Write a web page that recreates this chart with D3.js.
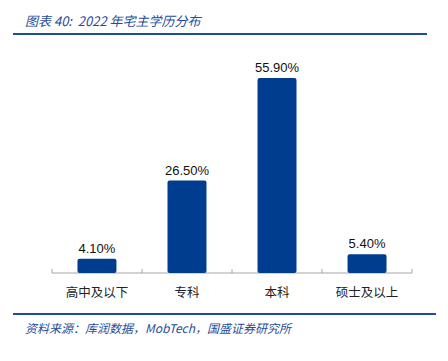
<!DOCTYPE html>
<html>
<head>
<meta charset="utf-8">
<script src="https://cdn.jsdelivr.net/npm/d3@7"></script>
<style>
  body { margin: 0; background: #fff; }
  svg { display: block; }
</style>
</head>
<body>
<svg id="chart" width="448" height="361"></svg>
<script>
// Data
const categories = ["高中及以下", "专科", "本科", "硕士及以上"];
const values = [4.1, 26.5, 55.9, 5.4];
const titleText = "图表 40:  2022 年宅主学历分布";
const sourceText = "资料来源：库润数据，MobTech，国盛证券研究所";

const svg = d3.select("#chart");
const blue = "#003d8f";
const textBlue = "#1f4d9c";
const cjk = "'Noto Sans CJK SC', sans-serif";

// Title and rules
svg.append("text")
  .attr("x", 25)
  .attr("y", 26)
  .attr("fill", textBlue)
  .attr("font-family", cjk)
  .attr("font-style", "italic")
  .attr("font-size", 13)
  .style("white-space", "pre")
  .text(titleText);

svg.append("line")
  .attr("x1", 13).attr("x2", 427)
  .attr("y1", 34).attr("y2", 34)
  .attr("stroke", "#1f4d9c")
  .attr("stroke-width", 2);

svg.append("line")
  .attr("x1", 13).attr("x2", 436)
  .attr("y1", 314).attr("y2", 314)
  .attr("stroke", "#1f4d9c")
  .attr("stroke-width", 2);

svg.append("text")
  .attr("x", 25)
  .attr("y", 333)
  .attr("fill", textBlue)
  .attr("font-family", cjk)
  .attr("font-style", "italic")
  .attr("font-size", 12)
  .text(sourceText);

// Scales
const x = d3.scaleBand()
  .domain(categories)
  .range([52, 412])
  .paddingInner(0.567)
  .paddingOuter(0.283);

const y = d3.scaleLinear()
  .domain([0, 60])
  .range([273, 273 - 60 * 3.49]);

// Axis
const axis = svg.append("g").attr("transform", "translate(0,273)");
axis.append("line")
  .attr("x1", 52).attr("x2", 412)
  .attr("stroke", "#a6a6a6");
const edges = d3.range(categories.length + 1).map((i) => 52 + i * 90);
axis.selectAll(".tick")
  .data(edges)
  .join("line")
  .attr("class", "tick")
  .attr("x1", (d) => d).attr("x2", (d) => d)
  .attr("y1", -4).attr("y2", 0)
  .attr("stroke", "#a6a6a6");

axis.selectAll(".cat")
  .data(categories)
  .join("text")
  .attr("class", "cat")
  .attr("x", (d) => x(d) + x.bandwidth() / 2)
  .attr("y", 24)
  .attr("text-anchor", "middle")
  .attr("font-family", cjk)
  .attr("font-size", 12.5)
  .attr("fill", "#222")
  .text((d) => d);

// Bars
svg.selectAll(".bar")
  .data(values)
  .join("rect")
  .attr("class", "bar")
  .attr("x", (d, i) => x(categories[i]))
  .attr("y", (d) => y(d))
  .attr("width", x.bandwidth())
  .attr("height", (d) => y(0) - y(d))
  .attr("rx", 2)
  .attr("fill", blue);

// Value labels
svg.selectAll(".val")
  .data(values)
  .join("text")
  .attr("class", "val")
  .attr("x", (d, i) => x(categories[i]) + x.bandwidth() / 2)
  .attr("y", (d) => y(d) - 6)
  .attr("text-anchor", "middle")
  .attr("font-family", "'Liberation Sans', Arial, sans-serif")
  .attr("font-size", 13)
  .attr("fill", "#111")
  .text((d) => d.toFixed(2) + "%");
</script>
</body>
</html>
